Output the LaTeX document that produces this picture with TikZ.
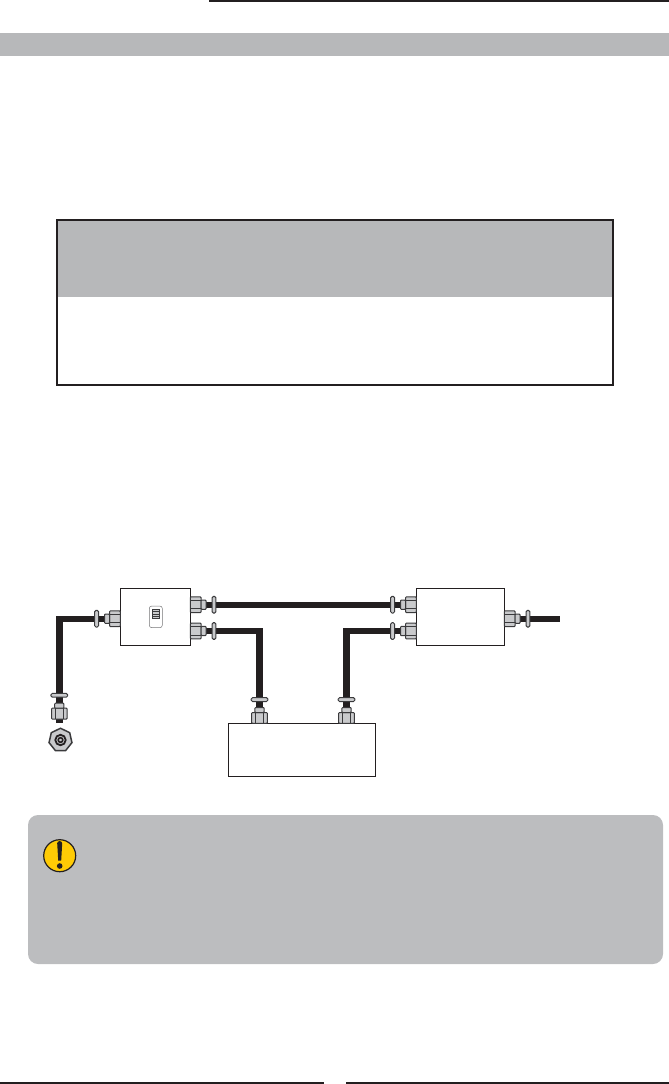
\documentclass[tikz,border=0pt]{standalone}
\usetikzlibrary{shapes.geometric}
\definecolor{ink}{HTML}{231F20}
\definecolor{bandgrey}{HTML}{B7B8BA}
\definecolor{notegrey}{HTML}{BCBDBF}
\definecolor{metal}{HTML}{C9CACC}
\definecolor{metaledge}{HTML}{3A3A3C}
\definecolor{warnyellow}{HTML}{FFCB05}
\tikzset{
  x=1pt,y=-1pt,
  unitbox/.style={draw=ink,line width=1pt,fill=white,inner sep=0pt,outer sep=0pt,anchor=north west},
  pipe/.style={draw=ink,line width=6.4pt,line join=miter},
  part/.style={draw=metaledge,fill=metal,line width=1pt,rounded corners=0.8pt},
  rulebar/.style={fill=ink,draw=none},
}
% origin on the unit wall, +x pointing along the pipe
\newcommand{\pipefitting}[3]{%
  \begin{scope}[shift={(#1,#2)},rotate=#3]
    \draw[part] (0,-7.8) rectangle (10.8,7.8);
    \draw[metaledge,line width=0.9pt] (0,-4.2) -- (10.8,-4.2) (0,4.2) -- (10.8,4.2);
    \draw[part] (10.8,-4.6) rectangle (15.8,4.6);
    \draw[part,rounded corners=1.4pt] (21.8,-8.4) rectangle (25.6,8.4);
  \end{scope}}
\begin{document}
\begin{tikzpicture}
\useasboundingbox (0,0) rectangle (669,1084);
% page furniture
\fill[rulebar] (209,0) rectangle (669,2);
\fill[bandgrey] (0,33) rectangle (669,55.5);
\fill[rulebar] (0,1082) rectangle (324,1084);
\fill[rulebar] (346,1082) rectangle (669,1084);
% table
\fill[bandgrey] (57,220) rectangle (613,297);
\draw[ink,line width=1.6pt] (57,220) rectangle (613,385);
% units
\node[unitbox,minimum width=70pt,minimum height=57pt] (unitA) at (120.3,588.3) {};
\node[unitbox,minimum width=88pt,minimum height=57pt] (unitB) at (416.3,588.3) {};
\node[unitbox,minimum width=147pt,minimum height=53pt] (unitC) at (228.3,723.3) {};
% connection points
\coordinate (aIn) at (120.3,618.7);
\coordinate (aOutTop) at (190.3,604.7);
\coordinate (aOutLow) at (190.3,631);
\coordinate (bInTop) at (416.3,604.7);
\coordinate (bInLow) at (416.3,631);
\coordinate (bOut) at (504.3,618.7);
\coordinate (bEnd) at (559.5,618.7);
\coordinate (cLeft) at (259.5,723.3);
\coordinate (cRight) at (346.5,723.3);
\coordinate (tail) at (59.3,723);
% pipes
\draw[pipe] (aIn) -| (tail);
\draw[pipe] (aOutTop) -- (bInTop);
\draw[pipe] (aOutLow) -| (cLeft);
\draw[pipe] (bInLow) -| (cRight);
\draw[pipe] (bOut) -- (bEnd);
% fittings
\pipefitting{120.3}{618.7}{180}
\pipefitting{190.3}{604.7}{0}
\pipefitting{190.3}{631}{0}
\pipefitting{416.3}{604.7}{180}
\pipefitting{416.3}{631}{180}
\pipefitting{504.3}{618.7}{0}
\pipefitting{259.5}{723.3}{90}
\pipefitting{346.5}{723.3}{90}
\pipefitting{59.3}{719}{90}
% panel on unit A
\draw[metaledge!70,line width=0.5pt,rounded corners=2.5pt] (149.3,606) rectangle (162.3,627.7);
\draw[metaledge,line width=0.6pt,fill=metal] (152.3,609) rectangle (159.7,618.7);
\foreach \yy in {611.4,613.8,616.2} \draw[metaledge,line width=0.5pt] (152.3,\yy) -- (159.7,\yy);
% end view
\node[regular polygon,regular polygon sides=7,draw=metaledge,fill=metal,line width=1.5pt,minimum size=23.5pt,inner sep=0pt] (endview) at (60.5,740) {};
\draw[ink,line width=1.8pt,fill=metal] (endview.center) circle (5.2);
\draw[ink,line width=1.6pt,fill=metal] (endview.center) circle (2.3);
% note
\fill[notegrey,rounded corners=10pt] (28,815) rectangle (663,964);
\node[circle,draw=ink,fill=warnyellow,line width=1.2pt,minimum size=32pt,inner sep=0pt] (warn) at (59.7,855.7) {};
\fill[ink] (57.2,843.2) .. controls (57.2,840.4) and (62.2,840.4) .. (62.2,843.2) -- (61.2,860.5) -- (58.2,860.5) -- cycle;
\fill[ink] (59.7,866) circle (2.8);
\end{tikzpicture}
\end{document}
